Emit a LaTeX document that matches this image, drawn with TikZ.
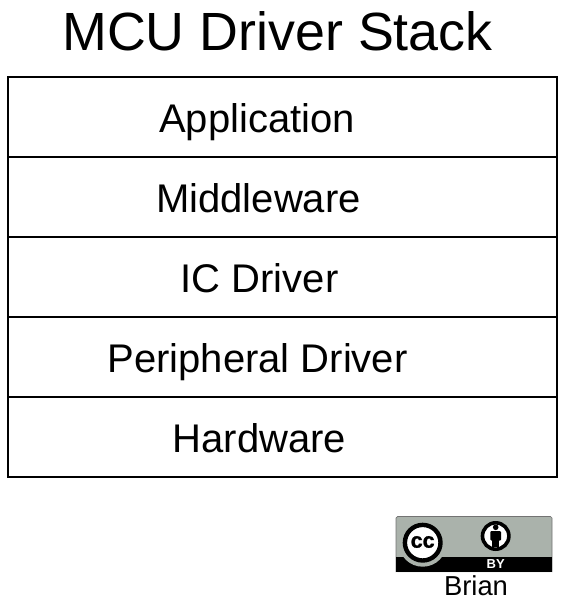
\documentclass[tikz,border=0pt]{standalone}
\usepackage{fontspec}
\setmainfont{Liberation Sans}
\newfontfamily\ccfont[FakeBold=1.2]{Liberation Sans Bold}
\definecolor{badgegray}{HTML}{AAB2AB}

\tikzset{
    layer/.style={draw=black, line width=2pt, rectangle, minimum width=549pt, minimum height=80pt, inner sep=0pt},
    layertext/.style={anchor=base, inner sep=0pt, font=\fontsize{40}{48}\selectfont},
}

\begin{document}
\begin{tikzpicture}[x=1pt, y=-1pt]
        \useasboundingbox (0,0) rectangle (567,614);

        % Title
        \node[anchor=base, inner sep=0pt, font=\fontsize{53.8}{60}\selectfont] (title) at (277.5,50) {MCU Driver Stack};

        % Stack
        \node[layer] (app) at (282.5,117) {};
        \node[layer] (mid) at (282.5,197) {};
        \node[layer] (ic)  at (282.5,277) {};
        \node[layer] (per) at (282.5,357) {};
        \node[layer] (hw)  at (282.5,437) {};

        % Labels
        \node[layertext] (appText) at (257,132) {Application};
        \node[layertext] (midText) at (258.5,212) {Middleware};
        \node[layertext] (icText)  at (259.5,292) {IC Driver};
        \node[layertext] (perText) at (257.5,372) {Peripheral Driver};
        \node[layertext] (hwText)  at (259.5,452) {Hardware};

        % Badge
        \fill[badgegray, rounded corners=1.5pt] (396,516.5) rectangle (552,572);
        \draw[black!55, line width=0.7pt, rounded corners=1.5pt] (396,572) -- (396,516.5) -- (552,516.5) -- (552,572);
        \fill[black] (396,556.5) rectangle (552,572);
        \fill[badgegray] (422.7,542.7) circle (24);
        \draw[black, line width=4.4pt, fill=white] (422.7,542.7) circle (17.8);
        \node[font=\ccfont\fontsize{21.5}{22}\selectfont, inner sep=0pt] (ccText) at (422.7,542) {cc};
        \draw[black, line width=3.6pt, fill=white] (495.7,536) circle (13.2);
        \fill[black] (495.7,527.3) circle (2.8);
        \fill[black, rounded corners=1pt] (490.4,531) rectangle (501,540.5);
        \fill[black] (492.4,540) rectangle (499,547);
        \node[font=\bfseries\fontsize{13}{13}\selectfont, text=white, inner sep=0pt] (byText) at (495.7,564.5) {BY};

        \node[anchor=base, inner sep=0pt, font=\fontsize{27.4}{30}\selectfont] (author) at (476,595) {Brian};
\end{tikzpicture}
\end{document}
